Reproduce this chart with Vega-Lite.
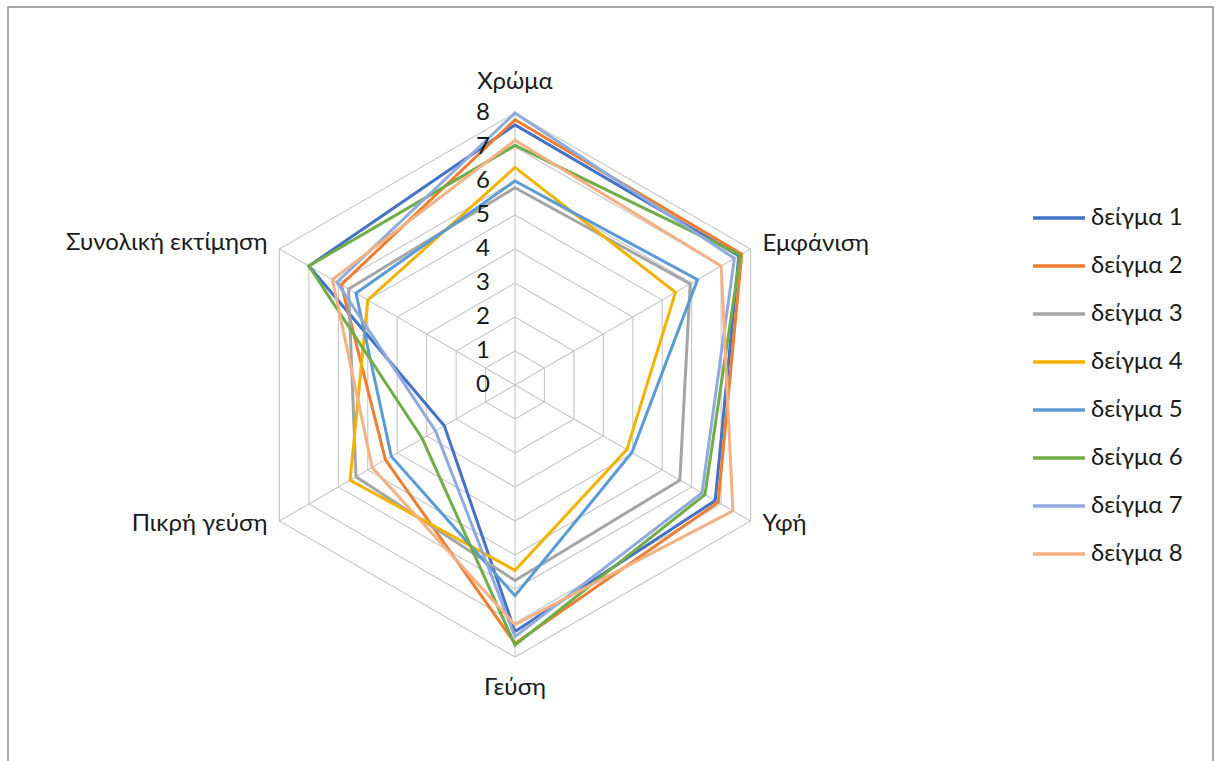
{
  "$schema": "https://vega.github.io/schema/vega-lite/v6.json",
  "width": 1205,
  "height": 755,
  "autosize": {"type": "none"},
  "padding": {"left": 8, "top": 7, "right": 3, "bottom": 0},
  "background": "white",
  "config": {
    "view": {"stroke": "#8c8c8c", "strokeWidth": 1.5},
    "font": "Lato",
    "text": {"font": "Lato", "fontSize": 24, "color": "#1a1a1a"}
  },
  "datasets": {
    "scores": [
      {"s": "δείγμα 1", "a": 0, "v": 7.65}, {"s": "δείγμα 1", "a": 1, "v": 7.6}, {"s": "δείγμα 1", "a": 2, "v": 6.8}, {"s": "δείγμα 1", "a": 3, "v": 7.25}, {"s": "δείγμα 1", "a": 4, "v": 2.4}, {"s": "δείγμα 1", "a": 5, "v": 7.0},
      {"s": "δείγμα 2", "a": 0, "v": 7.8}, {"s": "δείγμα 2", "a": 1, "v": 7.7}, {"s": "δείγμα 2", "a": 2, "v": 6.9}, {"s": "δείγμα 2", "a": 3, "v": 7.6}, {"s": "δείγμα 2", "a": 4, "v": 4.4}, {"s": "δείγμα 2", "a": 5, "v": 5.9},
      {"s": "δείγμα 3", "a": 0, "v": 5.8}, {"s": "δείγμα 3", "a": 1, "v": 5.95}, {"s": "δείγμα 3", "a": 2, "v": 5.6}, {"s": "δείγμα 3", "a": 3, "v": 5.75}, {"s": "δείγμα 3", "a": 4, "v": 5.4}, {"s": "δείγμα 3", "a": 5, "v": 5.65},
      {"s": "δείγμα 4", "a": 0, "v": 6.4}, {"s": "δείγμα 4", "a": 1, "v": 5.45}, {"s": "δείγμα 4", "a": 2, "v": 3.8}, {"s": "δείγμα 4", "a": 3, "v": 5.45}, {"s": "δείγμα 4", "a": 4, "v": 5.6}, {"s": "δείγμα 4", "a": 5, "v": 5.0},
      {"s": "δείγμα 5", "a": 0, "v": 6.0}, {"s": "δείγμα 5", "a": 1, "v": 6.2}, {"s": "δείγμα 5", "a": 2, "v": 3.97}, {"s": "δείγμα 5", "a": 3, "v": 6.2}, {"s": "δείγμα 5", "a": 4, "v": 4.2}, {"s": "δείγμα 5", "a": 5, "v": 5.4},
      {"s": "δείγμα 6", "a": 0, "v": 7.05}, {"s": "δείγμα 6", "a": 1, "v": 7.65}, {"s": "δείγμα 6", "a": 2, "v": 6.45}, {"s": "δείγμα 6", "a": 3, "v": 7.65}, {"s": "δείγμα 6", "a": 4, "v": 3.15}, {"s": "δείγμα 6", "a": 5, "v": 7.0},
      {"s": "δείγμα 7", "a": 0, "v": 8.0}, {"s": "δείγμα 7", "a": 1, "v": 7.45}, {"s": "δείγμα 7", "a": 2, "v": 6.35}, {"s": "δείγμα 7", "a": 3, "v": 7.4}, {"s": "δείγμα 7", "a": 4, "v": 2.7}, {"s": "δείγμα 7", "a": 5, "v": 6.05},
      {"s": "δείγμα 8", "a": 0, "v": 7.2}, {"s": "δείγμα 8", "a": 1, "v": 7.0}, {"s": "δείγμα 8", "a": 2, "v": 7.4}, {"s": "δείγμα 8", "a": 3, "v": 7.05}, {"s": "δείγμα 8", "a": 4, "v": 4.85}, {"s": "δείγμα 8", "a": 5, "v": 6.2}
    ],
    "rings": [
      {"r": 1, "a": [0, 1, 2, 3, 4, 5]}, {"r": 2, "a": [0, 1, 2, 3, 4, 5]}, {"r": 3, "a": [0, 1, 2, 3, 4, 5]}, {"r": 4, "a": [0, 1, 2, 3, 4, 5]},
      {"r": 5, "a": [0, 1, 2, 3, 4, 5]}, {"r": 6, "a": [0, 1, 2, 3, 4, 5]}, {"r": 7, "a": [0, 1, 2, 3, 4, 5]}, {"r": 8, "a": [0, 1, 2, 3, 4, 5]}
    ],
    "axes": [
      {"name": "Χρώμα", "a": 0}, {"name": "Εμφάνιση", "a": 1}, {"name": "Υφή", "a": 2},
      {"name": "Γεύση", "a": 3}, {"name": "Πικρή γεύση", "a": 4}, {"name": "Συνολική εκτίμηση", "a": 5}
    ],
    "ticks": [
      {"t": 0}, {"t": 1}, {"t": 2}, {"t": 3}, {"t": 4}, {"t": 5}, {"t": 6}, {"t": 7}, {"t": 8}
    ]
  },
  "layer": [
    {
      "data": {"name": "rings"},
      "transform": [
        {"flatten": ["a"]},
        {"calculate": "datum.r*sin(datum.a*PI/3)", "as": "x"},
        {"calculate": "datum.r*cos(datum.a*PI/3)", "as": "y"}
      ],
      "mark": {"type": "line", "interpolate": "linear-closed", "color": "#c6c6c6", "strokeWidth": 1.1},
      "encoding": {
        "x": {"field": "x", "type": "quantitative", "scale": {"domain": [-14.9118, 20.5294], "nice": false, "zero": false}, "axis": null},
        "y": {"field": "y", "type": "quantitative", "scale": {"domain": [-11.0882, 11.1176], "nice": false, "zero": false}, "axis": null},
        "detail": {"field": "r", "type": "nominal"},
        "order": {"field": "a", "type": "quantitative"}
      }
    },
    {
      "data": {"name": "axes"},
      "transform": [
        {"calculate": "8*sin(datum.a*PI/3)", "as": "ex"},
        {"calculate": "8*cos(datum.a*PI/3)", "as": "ey"}
      ],
      "mark": {"type": "rule", "color": "#c6c6c6", "strokeWidth": 1.1},
      "encoding": {
        "x": {"field": "ex", "type": "quantitative"},
        "y": {"field": "ey", "type": "quantitative"},
        "x2": {"datum": 0},
        "y2": {"datum": 0}
      }
    },
    {
      "data": {"name": "scores"},
      "transform": [
        {"calculate": "datum.v*sin(datum.a*PI/3)", "as": "x"},
        {"calculate": "datum.v*cos(datum.a*PI/3)", "as": "y"}
      ],
      "mark": {"type": "line", "interpolate": "linear-closed", "strokeWidth": 3},
      "encoding": {
        "x": {"field": "x", "type": "quantitative"},
        "y": {"field": "y", "type": "quantitative"},
        "order": {"field": "a", "type": "quantitative"},
        "color": {
          "field": "s",
          "type": "nominal",
          "scale": {
            "domain": ["δείγμα 1", "δείγμα 2", "δείγμα 3", "δείγμα 4", "δείγμα 5", "δείγμα 6", "δείγμα 7", "δείγμα 8"],
            "range": ["#4472C4", "#ED7D31", "#A5A5A5", "#F2B200", "#5B9BD5", "#70AD47", "#8FAADC", "#F4B183"]
          },
          "legend": {
            "title": null,
            "orient": "none",
            "legendX": 1023,
            "legendY": 183,
            "padding": 0,
            "symbolType": "stroke",
            "symbolSize": 2704,
            "symbolStrokeWidth": 3.5,
            "labelFont": "Lato",
            "labelFontSize": 24,
            "labelColor": "#1a1a1a",
            "labelOffset": 4,
            "rowPadding": 8,
            "labelLimit": 300
          }
        }
      }
    },
    {
      "data": {"name": "ticks"},
      "mark": {"type": "text", "dx": -32, "align": "center", "baseline": "middle"},
      "encoding": {
        "x": {"datum": 0, "type": "quantitative"},
        "y": {"field": "t", "type": "quantitative"},
        "text": {"field": "t", "type": "quantitative"}
      }
    },
    {
      "data": {"name": "axes"},
      "transform": [
        {"filter": "datum.a == 0"},
        {"calculate": "8*sin(datum.a*PI/3)", "as": "ex"},
        {"calculate": "8*cos(datum.a*PI/3)", "as": "ey"}
      ],
      "mark": {"type": "text", "align": "center", "baseline": "middle", "dy": -31},
      "encoding": {
        "x": {"field": "ex", "type": "quantitative"},
        "y": {"field": "ey", "type": "quantitative"},
        "text": {"field": "name"}
      }
    },
    {
      "data": {"name": "axes"},
      "transform": [
        {"filter": "datum.a == 3"},
        {"calculate": "8*sin(datum.a*PI/3)", "as": "ex"},
        {"calculate": "8*cos(datum.a*PI/3)", "as": "ey"}
      ],
      "mark": {"type": "text", "align": "center", "baseline": "middle", "dy": 31},
      "encoding": {
        "x": {"field": "ex", "type": "quantitative"},
        "y": {"field": "ey", "type": "quantitative"},
        "text": {"field": "name"}
      }
    },
    {
      "data": {"name": "axes"},
      "transform": [
        {"filter": "datum.a == 1"},
        {"calculate": "8*sin(datum.a*PI/3)", "as": "ex"},
        {"calculate": "8*cos(datum.a*PI/3)", "as": "ey"}
      ],
      "mark": {"type": "text", "align": "left", "baseline": "middle", "dx": 12, "dy": -5},
      "encoding": {
        "x": {"field": "ex", "type": "quantitative"},
        "y": {"field": "ey", "type": "quantitative"},
        "text": {"field": "name"}
      }
    },
    {
      "data": {"name": "axes"},
      "transform": [
        {"filter": "datum.a == 2"},
        {"calculate": "8*sin(datum.a*PI/3)", "as": "ex"},
        {"calculate": "8*cos(datum.a*PI/3)", "as": "ey"}
      ],
      "mark": {"type": "text", "align": "left", "baseline": "middle", "dx": 12, "dy": 3},
      "encoding": {
        "x": {"field": "ex", "type": "quantitative"},
        "y": {"field": "ey", "type": "quantitative"},
        "text": {"field": "name"}
      }
    },
    {
      "data": {"name": "axes"},
      "transform": [
        {"filter": "datum.a == 4"},
        {"calculate": "8*sin(datum.a*PI/3)", "as": "ex"},
        {"calculate": "8*cos(datum.a*PI/3)", "as": "ey"}
      ],
      "mark": {"type": "text", "align": "right", "baseline": "middle", "dx": -12, "dy": 3},
      "encoding": {
        "x": {"field": "ex", "type": "quantitative"},
        "y": {"field": "ey", "type": "quantitative"},
        "text": {"field": "name"}
      }
    },
    {
      "data": {"name": "axes"},
      "transform": [
        {"filter": "datum.a == 5"},
        {"calculate": "8*sin(datum.a*PI/3)", "as": "ex"},
        {"calculate": "8*cos(datum.a*PI/3)", "as": "ey"}
      ],
      "mark": {"type": "text", "align": "right", "baseline": "middle", "dx": -12, "dy": -6},
      "encoding": {
        "x": {"field": "ex", "type": "quantitative"},
        "y": {"field": "ey", "type": "quantitative"},
        "text": {"field": "name"}
      }
    }
  ]
}
